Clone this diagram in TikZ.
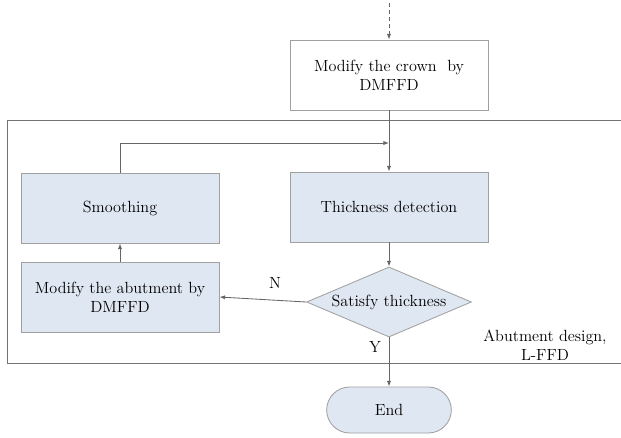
\documentclass[tikz,border=0pt]{standalone}
\usetikzlibrary{shapes.geometric, shapes.misc, arrows.meta, positioning, calc}

\definecolor{boxfill}{HTML}{DFE7F2}
\definecolor{boxline}{HTML}{A0A0A0}

\begin{document}
\begin{tikzpicture}[
    x=0.025cm, y=-0.025cm,
    font=\rmfamily\fontsize{11.5}{13.5}\selectfont,
    >={Latex[length=4pt, width=3pt]},
    box/.style={draw=boxline, fill=#1, align=center, inner sep=3pt, minimum width=4.95cm, minimum height=1.75cm, line width=0.6pt},
    box/.default=boxfill,
    decision/.style={diamond, draw=boxline, fill=boxfill, aspect=2.36, inner sep=1pt, minimum width=4.12cm, minimum height=1.75cm, line width=0.6pt},
    terminal/.style={rounded rectangle, draw=boxline, fill=boxfill, minimum width=3.35cm, minimum height=1.15cm, line width=0.6pt},
    arrow/.style={->, line width=0.6pt, color=black!60},
    frame/.style={line width=0.7pt, color=black!55}
]
\useasboundingbox (0,0) rectangle (621,437);

% === MAIN COLUMN ===
\coordinate (start) at (389,3);
\node[box=white] (crown) at (389,75) {Modify the crown\ \ by\\DMFFD};
\node[box] (thick) at (389,207) {Thickness detection};
\node[decision] (satisfy) at (389,302) {Satisfy thickness};
\node[terminal] (end) at (389,410) {End};

% === LEFT COLUMN ===
\node[box] (smooth) at (120,208) {Smoothing};
\node[box] (abut) at (120,297) {Modify the abutment by\\DMFFD};

% === FRAME (open on the right) ===
\draw[frame] (621,120) -- (7,120) -- (7,363) -- (621,363);

% === ARROWS ===
\draw[arrow, densely dashed] (start) -- (crown.north);
\draw[arrow] (crown.south) -- (thick.north);
\draw[arrow] (thick.south) -- (satisfy.north);
\draw[arrow] (satisfy.west) -- (abut.east);
\draw[arrow] (abut.north) -- (smooth.south);

% Loop back into the main column
\coordinate (join) at (389,143);
\draw[arrow] (smooth.north) |- (join);

\draw[arrow] (satisfy.south) -- (end.north);

% === LABELS ===
\node (nlabel) at (275,283) {N};
\node (ylabel) at (375,347) {Y};
\node[align=center] (design) at (545,345) {Abutment design,\\L-FFD};

\end{tikzpicture}
\end{document}
